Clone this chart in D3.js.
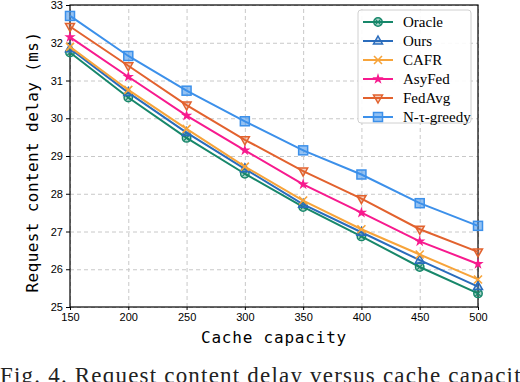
<!DOCTYPE html>
<html>
<head>
<meta charset="utf-8">
<script src="https://cdn.jsdelivr.net/npm/d3@7"></script>
<style>
  body { margin: 0; background: #fff; }
  .tick text { font-family: 'Liberation Sans', Arial, sans-serif; font-size: 11px; fill: #000; }
  .grid line { stroke: #c8c8c8; stroke-dasharray: 4,3; }
  .grid path { display: none; }
</style>
</head>
<body>
<script>
// data
const capacity = [150, 200, 250, 300, 350, 400, 450, 500]
const oracle = [31.74, 30.55, 29.48, 28.53, 27.65, 26.87, 26.06, 25.36]
const ours = [31.84, 30.68, 29.62, 28.66, 27.72, 26.98, 26.24, 25.54]
const cafr = [31.89, 30.75, 29.72, 28.72, 27.82, 27.06, 26.39, 25.73]
const asyfed = [32.15, 31.10, 30.07, 29.15, 28.25, 27.50, 26.74, 26.14]
const fedavg = [32.43, 31.39, 30.35, 29.43, 28.60, 27.87, 27.06, 26.46]
const greedy = [32.71, 31.65, 30.73, 29.92, 29.15, 28.51, 27.75, 27.15]
const yTicks = [25, 26, 27, 28, 29, 30, 31, 32, 33]

const series = [
  {name: 'Oracle', values: oracle, color: '#17876a', marker: 'oracle'},
  {name: 'Ours', values: ours, color: '#2a6cbc', marker: 'tri-up'},
  {name: 'CAFR', values: cafr, color: '#f7a43a', marker: 'x'},
  {name: 'AsyFed', values: asyfed, color: '#f71a8e', marker: 'star'},
  {name: 'FedAvg', values: fedavg, color: '#e2622e', marker: 'tri-down'},
  {name: 'N-τ-greedy', values: greedy, color: '#3c90ea', marker: 'square'}
]

const width = 520
const height = 382
const margin = {top: 5, right: 42, bottom: 75, left: 70}
const innerW = width - margin.left - margin.right
const innerH = height - margin.top - margin.bottom

const svg = d3.select('body').append('svg')
    .attr('width', width)
    .attr('height', height)

const g = svg.append('g')
    .attr('transform', `translate(${margin.left}, ${margin.top})`)

const x = d3.scaleLinear().domain([150, 500]).range([0, innerW])
const y = d3.scaleLinear().domain([25, 33]).range([innerH, 0])

// grid
g.append('g').attr('class', 'grid')
  .attr('transform', `translate(0, ${innerH})`)
  .call(d3.axisBottom(x).tickValues(capacity).tickSize(-innerH).tickFormat(''))
g.append('g').attr('class', 'grid')
  .call(d3.axisLeft(y).tickValues(yTicks).tickSize(-innerW).tickFormat(''))

// axes
const xAxis = g.append('g')
  .attr('transform', `translate(0, ${innerH})`)
  .call(d3.axisBottom(x).tickValues(capacity).tickSize(3).tickPadding(3))
const yAxis = g.append('g')
  .call(d3.axisLeft(y).tickValues(yTicks).tickSize(4).tickPadding(3))
xAxis.select('.domain').remove()
yAxis.select('.domain').remove()

// frame
g.append('rect')
  .attr('width', innerW).attr('height', innerH)
  .attr('fill', 'none').attr('stroke', '#000').attr('stroke-width', 1.2)

function drawMarker(sel, type, color) {
  if (type === 'oracle') {
    sel.append('circle').attr('r', 4.2).attr('fill', color).attr('fill-opacity', 0.35)
      .attr('stroke', color).attr('stroke-width', 1.5)
    sel.append('path').attr('d', 'M-2.6,-2.6L2.6,2.6M-2.6,2.6L2.6,-2.6')
      .attr('stroke', color).attr('stroke-width', 1.2)
  } else if (type === 'tri-up') {
    sel.append('path').attr('d', 'M0,-5L4.5,3L-4.5,3Z').attr('fill', color).attr('fill-opacity', 0.3)
      .attr('stroke', color).attr('stroke-width', 1.5)
  } else if (type === 'tri-down') {
    sel.append('path').attr('d', 'M0,5L4.5,-3L-4.5,-3Z').attr('fill', color).attr('fill-opacity', 0.3)
      .attr('stroke', color).attr('stroke-width', 1.5)
  } else if (type === 'x') {
    sel.append('path').attr('d', 'M-4,-4L4,4M-4,4L4,-4')
      .attr('stroke', color).attr('stroke-width', 1.6)
  } else if (type === 'star') {
    sel.append('path').attr('d', d3.symbol(d3.symbolStar, 40)()).attr('fill', color)
  } else if (type === 'square') {
    sel.append('rect').attr('x', -4.5).attr('y', -4.5).attr('width', 9).attr('height', 9)
      .attr('fill', color).attr('fill-opacity', 0.55).attr('stroke', color).attr('stroke-width', 1.5)
  }
}

const line = d3.line()
  .x((d, i) => x(capacity[i]))
  .y((d) => y(d))

series.forEach((s) => {
  g.append('path')
    .datum(s.values)
    .attr('fill', 'none')
    .attr('stroke', s.color)
    .attr('stroke-width', 2)
    .attr('d', line)
  s.values.forEach((v, i) => {
    const m = g.append('g').attr('transform', `translate(${x(capacity[i])}, ${y(v)})`)
    drawMarker(m, s.marker, s.color)
  })
})

// legend
const legend = g.append('g').attr('transform', `translate(${innerW - 120}, 5)`)
legend.append('rect')
  .attr('width', 113).attr('height', 113).attr('rx', 3)
  .attr('fill', '#fff').attr('fill-opacity', 0.9)
  .attr('stroke', '#d0d0d0').attr('stroke-width', 1)
series.forEach((s, i) => {
  const row = legend.append('g').attr('transform', `translate(0, ${12 + i * 19})`)
  row.append('line').attr('x1', 5).attr('x2', 35)
    .attr('stroke', s.color).attr('stroke-width', 2)
  drawMarker(row.append('g').attr('transform', 'translate(20, 0)'), s.marker, s.color)
  row.append('text').attr('x', 45).attr('y', 5)
    .attr('font-family', "'Liberation Serif', 'Times New Roman', serif")
    .attr('font-size', 15)
    .text(s.name)
})

// axis titles
svg.append('text')
  .attr('x', margin.left + innerW / 2).attr('y', 343)
  .attr('text-anchor', 'middle')
  .attr('font-family', "'DejaVu Sans Mono', monospace")
  .attr('font-size', 16).attr('letter-spacing', 0.8)
  .text('Cache capacity')
svg.append('text')
  .attr('transform', `translate(38, ${margin.top + innerH / 2 + 6}) rotate(-90)`)
  .attr('text-anchor', 'middle')
  .attr('font-family', "'DejaVu Sans Mono', monospace")
  .attr('font-size', 16).attr('letter-spacing', 0.4)
  .text('Request content delay (ms)')

// caption
svg.append('text')
  .attr('x', 0).attr('y', 383)
  .attr('font-family', "'Liberation Serif', 'Times New Roman', serif")
  .attr('font-size', 23).attr('letter-spacing', 1.2)
  .attr('fill', '#222')
  .text('Fig. 4. Request content delay versus cache capacity')
</script>
</body>
</html>
